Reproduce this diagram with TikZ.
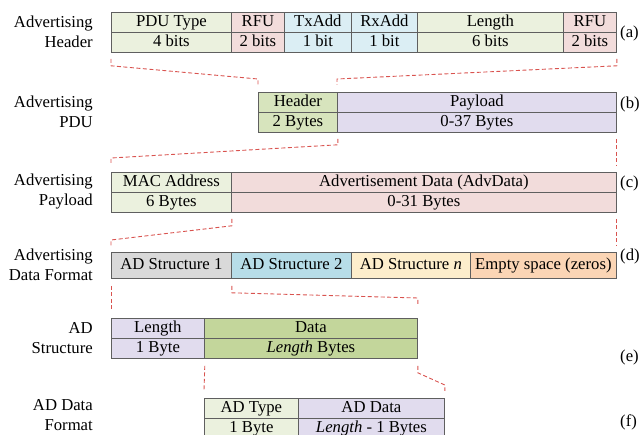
\documentclass[tikz,border=0pt]{standalone}
\usepackage{fontspec}
\setmainfont{Liberation Serif}
\usetikzlibrary{calc}

\definecolor{boxline}{HTML}{5F5F5F}
\definecolor{linkred}{HTML}{D9534F}
\definecolor{paleGreen}{HTML}{EBF1DE}
\definecolor{midGreen}{HTML}{D7E4BD}
\definecolor{deepGreen}{HTML}{C3D69B}
\definecolor{palePink}{HTML}{F2DCDB}
\definecolor{paleBlue}{HTML}{DBEEF4}
\definecolor{skyBlue}{HTML}{B7DDE8}
\definecolor{lavender}{HTML}{E1DCEE}
\definecolor{paleGray}{HTML}{D9D9D9}
\definecolor{cream}{HTML}{FDEECC}
\definecolor{peach}{HTML}{FBD5B5}

\begin{document}
\begin{tikzpicture}[x=1pt,y=-1pt,
  font=\fontsize{16.7}{20}\selectfont,
  cell/.style={draw=boxline, line width=0.8pt, anchor=north west, inner sep=0pt,
    minimum height=20pt, text height=11.5pt, text depth=3.5pt},
  link/.style={draw=linkred, dash pattern=on 4pt off 2.5pt, line width=0.9pt},
  rowlabel/.style={anchor=east, align=right, inner sep=0pt},
  tag/.style={anchor=west, inner sep=0pt}]
\useasboundingbox (0,0) rectangle (641,435);

% (a) Advertising header
\node[rowlabel] (la) at (93,32) {Advertising\\Header};
\node[cell, fill=paleGreen, minimum width=120pt] (aPt) at (111,12) {PDU Type};
\node[cell, fill=paleGreen, minimum width=120pt] (aPb) at (111,32) {4 bits};
\node[cell, fill=palePink, minimum width=53pt] (aR1t) at (231,12) {RFU};
\node[cell, fill=palePink, minimum width=53pt] (aR1b) at (231,32) {2 bits};
\node[cell, fill=paleBlue, minimum width=67pt] (aTt) at (284,12) {TxAdd};
\node[cell, fill=paleBlue, minimum width=67pt] (aTb) at (284,32) {1 bit};
\node[cell, fill=paleBlue, minimum width=66pt] (aXt) at (351,12) {RxAdd};
\node[cell, fill=paleBlue, minimum width=66pt] (aXb) at (351,32) {1 bit};
\node[cell, fill=paleGreen, minimum width=146pt] (aLt) at (417,12) {Length};
\node[cell, fill=paleGreen, minimum width=146pt] (aLb) at (417,32) {6 bits};
\node[cell, fill=palePink, minimum width=53pt] (aR2t) at (563,12) {RFU};
\node[cell, fill=palePink, minimum width=53pt] (aR2b) at (563,32) {2 bits};
\node[tag] (ta) at (620,33) {(a)};

% (b) Advertising PDU
\node[rowlabel] (lb) at (93,112) {Advertising\\PDU};
\node[cell, fill=midGreen, minimum width=79pt] (bHt) at (258,92) {Header};
\node[cell, fill=midGreen, minimum width=79pt] (bHb) at (258,112) {2 Bytes};
\node[cell, fill=lavender, minimum width=279pt] (bPt) at (337,92) {Payload};
\node[cell, fill=lavender, minimum width=279pt] (bPb) at (337,112) {0-37 Bytes};
\node[tag] (tb) at (620,104) {(b)};

% (c) Advertising payload
\node[rowlabel] (lc) at (93,192) {Advertising\\Payload};
\node[cell, fill=paleGreen, minimum width=120pt] (cMt) at (111,172) {MAC Address};
\node[cell, fill=paleGreen, minimum width=120pt] (cMb) at (111,192) {6 Bytes};
\node[cell, fill=palePink, minimum width=385pt] (cAt) at (231,172) {Advertisement Data (AdvData)};
\node[cell, fill=palePink, minimum width=385pt] (cAb) at (231,192) {0-31 Bytes};
\node[tag] (tc) at (620,183) {(c)};

% (d) Advertising data format
\node[rowlabel] (ld) at (93,265) {Advertising\\Data Format};
\node[cell, fill=paleGray, minimum width=120pt, minimum height=26pt] (d1) at (111,252) {AD Structure 1};
\node[cell, fill=skyBlue, minimum width=120pt, minimum height=26pt] (d2) at (231,252) {AD Structure 2};
\node[cell, fill=cream, minimum width=119pt, minimum height=26pt] (d3) at (351,252) {AD Structure \textit{n}};
\node[cell, fill=peach, minimum width=146pt, minimum height=26pt] (d4) at (470,252) {Empty space (zeros)};
\node[tag] (td) at (620,256) {(d)};

% (e) AD structure
\node[rowlabel] (le) at (93,338) {AD\\Structure};
\node[cell, fill=lavender, minimum width=93pt] (eLt) at (111,318) {Length};
\node[cell, fill=lavender, minimum width=93pt] (eLb) at (111,338) {1 Byte};
\node[cell, fill=deepGreen, minimum width=213pt] (eDt) at (204,318) {Data};
\node[cell, fill=deepGreen, minimum width=213pt] (eDb) at (204,338) {\textit{Length} Bytes};
\node[tag] (te) at (620,357) {(e)};

% (f) AD data format
\node[rowlabel] (lf) at (93,415) {AD Data\\Format};
\node[cell, fill=paleGreen, minimum width=94pt] (fTt) at (204,398) {AD Type};
\node[cell, fill=paleGreen, minimum width=94pt] (fTb) at (204,418) {1 Byte};
\node[cell, fill=lavender, minimum width=146pt] (fDt) at (298,398) {AD Data};
\node[cell, fill=lavender, minimum width=146pt] (fDb) at (298,418) {\textit{Length} - 1 Bytes};
\node[tag] (tf) at (620,422) {(f)};

% dashed expansion guides between levels
\draw[link] ($(aPb.south west)+(0,6)$) -- ++(0,7) -- ($(bHt.north west)+(0,-13)$) -- ++(0,6);
\draw[link] ($(aR2b.south east)+(0,6)$) -- ++(0,7) -- ($(bPt.north west)+(0,-13)$) -- ++(0,6);

\draw[link] ($(bHb.south east)+(0,6)$) -- ++(0,6) -- ($(cMt.north west)+(0,-14)$) -- ++(0,7);
\draw[link] ($(bPb.south east)+(0,6)$) -- ($(cAt.north east)+(0,-6)$);

\draw[link] ($(cMb.south east)+(0,6)$) -- ++(0,7) -- ($(d1.north west)+(0,-12)$) -- ++(0,6);
\draw[link] ($(cAb.south east)+(0,6)$) -- ($(d4.north east)+(0,-6)$);

\draw[link] ($(d1.south west)+(0,7)$) -- ($(eLt.north west)+(0,-7)$);
\draw[link] ($(d1.south east)+(0,7)$) -- ++(0,7) -- ($(eDt.north east)+(0,-20)$) -- ++(0,6);

\draw[link] ($(eLb.south east)+(0,7)$) -- ($(fTt.north west)+(0,-8)$);
\draw[link] ($(eDb.south east)+(0,7)$) -- ++(0,7) -- ($(fDt.north east)+(0,-13)$) -- ++(0,6);
\end{tikzpicture}
\end{document}
